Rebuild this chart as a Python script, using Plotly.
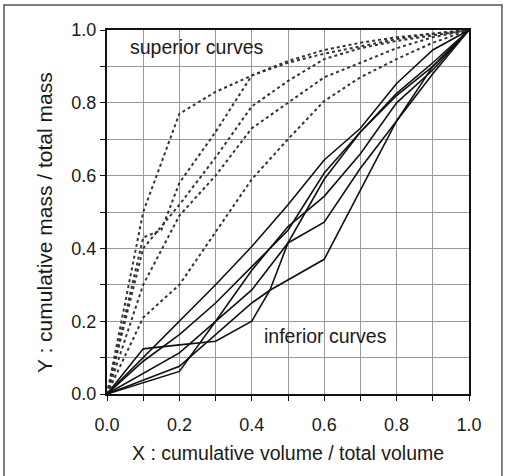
import plotly.graph_objects as go

# ---- data ----
x_std = [0, 0.1, 0.2, 0.3, 0.4, 0.5, 0.6, 0.7, 0.8, 0.9, 1.0]

# superior curves (dotted)
sup1_x = x_std
sup1_y = [0, 0.50, 0.77, 0.83, 0.875, 0.91, 0.935, 0.955, 0.975, 0.99, 1.0]
sup2_x = [0, 0.1, 0.15, 0.2, 0.3, 0.4, 0.5, 0.6, 0.7, 0.8, 0.9, 1.0]
sup2_y = [0, 0.43, 0.45, 0.58, 0.72, 0.875, 0.915, 0.945, 0.965, 0.98, 0.99, 1.0]
sup3_x = x_std
sup3_y = [0, 0.40, 0.52, 0.65, 0.79, 0.86, 0.92, 0.95, 0.97, 0.985, 1.0]
sup4_x = x_std
sup4_y = [0, 0.30, 0.49, 0.60, 0.73, 0.80, 0.87, 0.91, 0.95, 0.98, 1.0]
sup5_x = x_std
sup5_y = [0, 0.21, 0.30, 0.445, 0.59, 0.70, 0.805, 0.87, 0.92, 0.965, 1.0]

# inferior curves (solid)
inf1_x = x_std
inf1_y = [0, 0.10, 0.20, 0.30, 0.405, 0.52, 0.643, 0.73, 0.853, 0.945, 1.0]
inf2_x = [0, 0.1, 0.2, 0.3, 0.4, 0.45, 0.5, 0.6, 0.7, 0.8, 0.9, 1.0]
inf2_y = [0, 0.124, 0.135, 0.145, 0.20, 0.285, 0.415, 0.59, 0.72, 0.82, 0.90, 1.0]
inf3_x = [0, 0.2, 0.4, 0.45, 0.6, 0.8, 0.9, 1.0]
inf3_y = [0, 0.076, 0.25, 0.285, 0.37, 0.75, 0.88, 1.0]
inf4_x = x_std
inf4_y = [0, 0.09, 0.163, 0.25, 0.35, 0.45, 0.607, 0.72, 0.826, 0.91, 1.0]
inf5_x = [0, 0.2, 0.3, 0.4, 0.5, 0.6, 0.7, 0.8, 0.9, 1.0]
inf5_y = [0, 0.062, 0.20, 0.34, 0.46, 0.543, 0.66, 0.80, 0.89, 1.0]
inf6_x = [0, 0.2, 0.4, 0.5, 0.6, 0.7, 0.8, 0.9, 1.0]
inf6_y = [0, 0.113, 0.286, 0.415, 0.472, 0.62, 0.75, 0.90, 1.0]

tick_vals = [0, 0.2, 0.4, 0.6, 0.8, 1.0]
tick_text = ["0.0", "0.2", "0.4", "0.6", "0.8", "1.0"]

x_title = "X : cumulative volume / total volume"
y_title = "Y : cumulative mass / total mass"

fig = go.Figure()

for xs, ys in [(sup1_x, sup1_y), (sup2_x, sup2_y), (sup3_x, sup3_y),
               (sup4_x, sup4_y), (sup5_x, sup5_y)]:
    fig.add_trace(go.Scatter(x=xs, y=ys, mode="lines",
                             line=dict(color="#333333", width=2, dash="dot"),
                             showlegend=False, hoverinfo="skip"))

for xs, ys in [(inf1_x, inf1_y), (inf2_x, inf2_y), (inf3_x, inf3_y),
               (inf4_x, inf4_y), (inf5_x, inf5_y), (inf6_x, inf6_y)]:
    fig.add_trace(go.Scatter(x=xs, y=ys, mode="lines",
                             line=dict(color="#111111", width=1.6),
                             showlegend=False, hoverinfo="skip"))

font_main = "Liberation Sans, Arial, sans-serif"
txt_color = "#1a1a1a"

axis_common = dict(
    range=[0, 1], showgrid=True, gridcolor="#999999", gridwidth=1,
    tickmode="array", tickvals=tick_vals, ticktext=tick_text,
    showline=True, linecolor="#111111", linewidth=2, mirror=True,
    ticks="outside", ticklen=5, tickcolor="#111111", tickwidth=1,
    zeroline=False, tickfont=dict(family=font_main, size=18, color=txt_color),
    minor=dict(dtick=0.1, showgrid=True, gridcolor="#999999", gridwidth=1,
               ticks="outside", ticklen=5, tickcolor="#111111"),
)

fig.update_xaxes(**axis_common, ticklabelstandoff=8)
fig.update_yaxes(**axis_common)

# axis titles
fig.add_annotation(xref="paper", yref="paper", x=0.5, y=-0.162,
                   text=x_title, showarrow=False, xanchor="center", yanchor="middle",
                   font=dict(family=font_main, size=19.5, color=txt_color))
fig.add_annotation(xref="paper", yref="paper", x=-0.171, y=0.47,
                   text=y_title, showarrow=False, xanchor="center", yanchor="middle",
                   textangle=-90,
                   font=dict(family=font_main, size=21, color=txt_color))

fig.add_annotation(x=0.058, y=0.953, text="superior curves", showarrow=False,
                   xanchor="left", yanchor="middle",
                   font=dict(family=font_main, size=19.5, color=txt_color))
fig.add_annotation(x=0.428, y=0.159, text="inferior curves", showarrow=False,
                   xanchor="left", yanchor="middle",
                   font=dict(family=font_main, size=19.5, color=txt_color))

# outer frame around the whole picture
fig.add_shape(type="rect", xref="paper", yref="paper",
              x0=-0.2845, x1=1.091, y0=-0.24, y1=1.0687,
              line=dict(color="#555555", width=1.5), layer="below")

fig.update_layout(
    width=505, height=476,
    margin=dict(l=107, r=36, t=30, b=82),
    paper_bgcolor="white", plot_bgcolor="white",
    showlegend=False,
)

fig.write_html("out.html")
